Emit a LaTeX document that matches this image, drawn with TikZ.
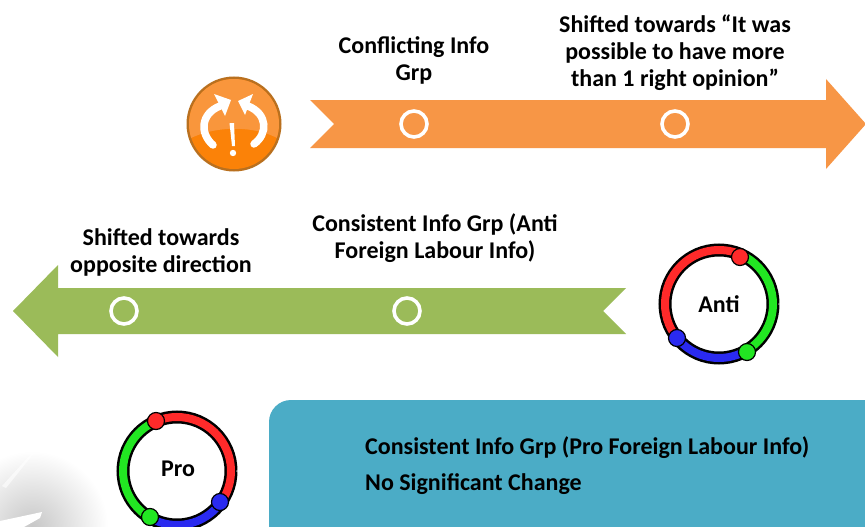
\documentclass[tikz,border=0pt]{standalone}
\usepackage{fontspec}
\setmainfont{Carlito}
\usetikzlibrary{shapes.geometric}
\definecolor{arrorange}{HTML}{F79646}
\definecolor{arrgreen}{HTML}{9BBB59}
\definecolor{boxteal}{HTML}{4BACC6}
\definecolor{iconlow}{HTML}{FB8208}
\definecolor{iconhigh}{HTML}{F9963C}
\definecolor{iconrim}{HTML}{B9701F}
\definecolor{ringred}{HTML}{FF2A2A}
\definecolor{ringgreen}{HTML}{22E622}
\definecolor{ringblue}{HTML}{2A2AF0}
\tikzset{
  lbl/.style={font=\fontsize{24}{27}\selectfont\bfseries, align=center, inner sep=0pt, text=black},
  mark ring/.style={circle, draw=white, line width=3.6pt, minimum size=26pt, inner sep=0pt},
  ringdot/.style={circle, draw=black, line width=1.2pt, minimum size=17pt, inner sep=0pt},
  ringblack/.style={draw=black, line width=13pt},
  ringcol/.style={line width=8pt},
  iconarrow/.style={draw=white, line width=7.5pt, line cap=round}
}
\begin{document}
\begin{tikzpicture}[x=1pt,y=-1pt]
\clip (0,0) rectangle (865,527);
\fill[white] (0,0) rectangle (865,527);

% faded grey graphic, lower left
\shade[inner color=black!22, outer color=white] (32,527) circle[radius=76];
\fill[white, opacity=.6] (2,486) -- (32,453) -- (34,453) -- (6,488) -- cycle;
\fill[white] (0,521) -- (42,512) -- (40,518) -- (24,527) -- (0,527) -- cycle;

% orange arrow
\fill[arrorange] (310,100) -- (826,100) -- (826,79) -- (866,124) -- (826,169) -- (826,148) -- (310,148) -- (334,124) -- cycle;
% green arrow
\fill[arrgreen] (13,311) -- (58,265) -- (58,288) -- (626,288) -- (603,311) -- (626,334) -- (58,334) -- (58,357) -- cycle;

% markers
\node[mark ring] (m1) at (414,124) {};
\node[mark ring] (m2) at (675,124) {};
\node[mark ring] (m3) at (124,311) {};
\node[mark ring] (m4) at (407,311) {};

% labels
\node[lbl] (t1) at (414,60.5) {Conflicting Info\\Grp};
\node[lbl] (t2) at (675,53) {Shifted towards “It was\\possible to have more\\than 1 right opinion”};
\node[lbl] (t3) at (435,238) {Consistent Info Grp (Anti\\Foreign Labour Info)};
\node[lbl] (t4) at (161,252) {Shifted towards\\opposite direction};

% icon
\fill[iconrim] (234,124) circle[radius=47.5];
\fill[iconlow] (234,124) circle[radius=45];
\begin{scope}
  \clip (234,124) circle[radius=45];
  \fill[iconhigh] (187,70) rectangle (281,128);
  \fill[iconhigh] (187,128) -- (281,128) -- (281,140) .. controls (255,125) and (215,125) .. (187,140) -- cycle;
\end{scope}
\draw[iconarrow] (213,145) .. controls (200,134) and (200,114) .. (220,106);
\draw[iconarrow] (254,144) .. controls (268,134) and (268,114) .. (248,106);
\fill[white] (231,100) -- (214,94) -- (225,116) -- cycle;
\fill[white] (238,101) -- (253,94) -- (245,115) -- cycle;
\fill[white] (229.5,123) -- (234,123) -- (235,146) -- (232,146) -- cycle;
\fill[white] (233,153) circle[radius=3.2];

% Anti ring
\node[font=\fontsize{24}{26}\selectfont\bfseries, inner sep=0pt] (anti) at (719,304) {Anti};
\draw[ringblack] (anti.center) ++(0:54) arc[start angle=0,end angle=360,radius=54];
\draw[ringcol,draw=ringgreen] (anti.center) ++(-66:54) arc[start angle=-66,end angle=60,radius=54];
\draw[ringcol,draw=ringblue] (anti.center) ++(60:54) arc[start angle=60,end angle=141,radius=54];
\draw[ringcol,draw=ringred] (anti.center) ++(141:54) arc[start angle=141,end angle=294,radius=54];
\node[ringdot, fill=ringred] (ar) at (740,257) {};
\node[ringdot, fill=ringgreen] (ag) at (747,352) {};
\node[ringdot, fill=ringblue] (ab) at (677,338) {};

% Pro ring
\node[font=\fontsize{24}{26}\selectfont\bfseries, inner sep=0pt] (pro) at (178,469) {Pro};
\draw[ringblack] (177,471) ++(0:54) arc[start angle=0,end angle=360,radius=54];
\draw[ringcol,draw=ringred] (177,471) ++(247:54) arc[start angle=247,end angle=396,radius=54];
\draw[ringcol,draw=ringblue] (177,471) ++(36:54) arc[start angle=36,end angle=120,radius=54];
\draw[ringcol,draw=ringgreen] (177,471) ++(120:54) arc[start angle=120,end angle=247,radius=54];
\node[ringdot, fill=ringred] (pr) at (156,421) {};
\node[ringdot, fill=ringblue] (pb) at (220,502) {};
\node[ringdot, fill=ringgreen] (pg) at (150,517) {};

% teal box
\fill[boxteal, rounded corners=22pt] (269,400) rectangle (900,560);
\node[lbl, anchor=base west] (b1) at (365,454) {Consistent Info Grp (Pro Foreign Labour Info)};
\node[lbl, anchor=base west] (b2) at (365,490) {No Significant Change};
\end{tikzpicture}
\end{document}
